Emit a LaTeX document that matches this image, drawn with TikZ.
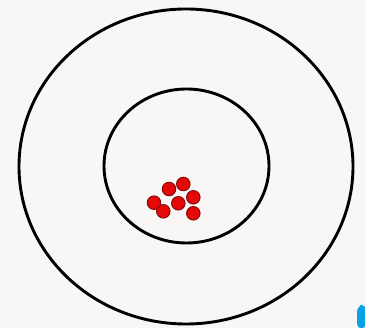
\documentclass[tikz,border=0pt]{standalone}
\definecolor{bg}{HTML}{F8F7F5}
\definecolor{dotfill}{HTML}{E40808}
\definecolor{dotedge}{HTML}{8A0A0A}
\definecolor{corner}{HTML}{0AA2E6}
\tikzset{
  ring/.style={draw=black, line width=2.9pt},
  dot/.style={circle, fill=dotfill, draw=dotedge, line width=1pt, minimum size=13.5pt, inner sep=0pt}
}
\begin{document}
\begin{tikzpicture}[x=1pt,y=-1pt]
\fill[bg] (0,0) rectangle (365,328);
\useasboundingbox (0,0) rectangle (365,328);
\draw[ring] (186,166.5) ellipse [x radius=167, y radius=157.5];
\draw[ring] (186.5,166) ellipse [x radius=82.5, y radius=77];
\node[dot] (d1) at (169,189) {};
\node[dot] (d2) at (183.3,184) {};
\node[dot] (d3) at (154,202.7) {};
\node[dot] (d4) at (163.3,211.3) {};
\node[dot] (d5) at (178.3,203.3) {};
\node[dot] (d6) at (193.3,197.3) {};
\node[dot] (d7) at (193.3,213.3) {};
\fill[corner, rounded corners=6pt] (357,329) -- (357,306) -- (366,304) -- (366,329) -- cycle;
\end{tikzpicture}
\end{document}
